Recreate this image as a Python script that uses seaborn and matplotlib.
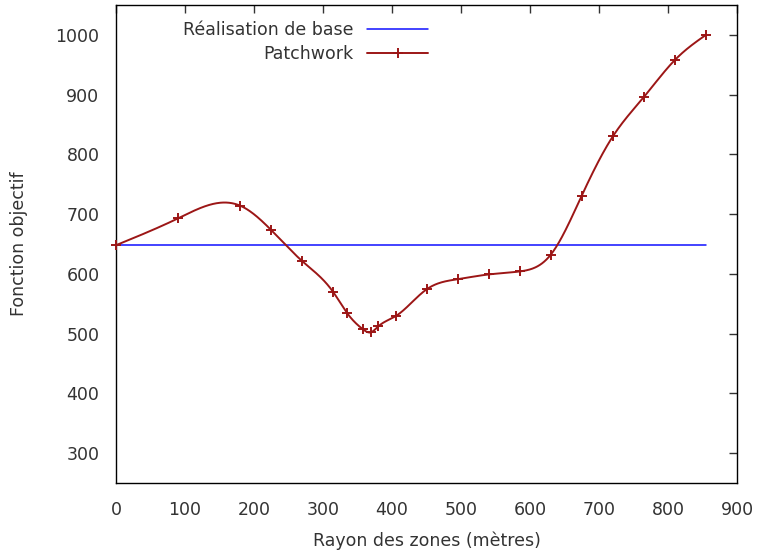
import numpy as np
import pandas as pd
import matplotlib
matplotlib.use("Agg")
import matplotlib.pyplot as plt
import seaborn as sns
from matplotlib.lines import Line2D

# Data
rayon = [0, 90, 180, 225, 270, 315, 335, 358, 369, 380, 405, 450, 495, 540,
         585, 630, 675, 720, 765, 810, 855]
patchwork = [648, 693, 714, 673, 621, 569, 534, 507, 502, 512, 529, 574, 591,
             599, 604, 632, 731, 830, 896, 958, 1000]
base_x = [0, 855]
base_y = [648, 648]

xticks = [0, 100, 200, 300, 400, 500, 600, 700, 800, 900]
yticks = [300, 400, 500, 600, 700, 800, 900, 1000]


def natural_spline(x, y, n=800):
    x = np.asarray(x, float)
    y = np.asarray(y, float)
    m = len(x)
    h = np.diff(x)
    A = np.zeros((m, m))
    b = np.zeros(m)
    A[0, 0] = 1
    A[-1, -1] = 1
    for i in range(1, m - 1):
        A[i, i - 1] = h[i - 1]
        A[i, i] = 2 * (h[i - 1] + h[i])
        A[i, i + 1] = h[i]
        b[i] = 6 * ((y[i + 1] - y[i]) / h[i] - (y[i] - y[i - 1]) / h[i - 1])
    M = np.linalg.solve(A, b)
    xs = np.linspace(x[0], x[-1], n)
    idx = np.clip(np.searchsorted(x, xs) - 1, 0, m - 2)
    x0, x1 = x[idx], x[idx + 1]
    hh = x1 - x0
    t0 = x1 - xs
    t1 = xs - x0
    ys = (M[idx] * t0 ** 3 / (6 * hh) + M[idx + 1] * t1 ** 3 / (6 * hh)
          + (y[idx] / hh - M[idx] * hh / 6) * t0
          + (y[idx + 1] / hh - M[idx + 1] * hh / 6) * t1)
    return xs, ys


sns.set_theme(style="white")
plt.rcParams['font.family'] = ['DejaVu Sans']

fig = plt.figure(figsize=(7.59, 5.57), dpi=100)
ax = fig.add_axes([0.153, 0.133, 0.818, 0.858])

red = '#9c1616'
blue = '#1010ff'
txt = '#333333'

sns.lineplot(x=base_x, y=base_y, ax=ax, color=blue, lw=1.1)
xs, ys = natural_spline(rayon, patchwork)
df = pd.DataFrame({'x': xs, 'y': ys})
sns.lineplot(data=df, x='x', y='y', ax=ax, color=red, lw=1.4, sort=False)
sns.scatterplot(x=rayon, y=patchwork, ax=ax, marker='+', color=red, s=50,
                linewidth=1.4, zorder=5, clip_on=False)

handles = [Line2D([], [], color=blue, lw=1.1),
           Line2D([], [], color=red, lw=1.4, marker='+', markersize=7.5,
                  markeredgewidth=1.4)]
ax.legend(handles, ['Réalisation de base', 'Patchwork'], loc='upper right',
          bbox_to_anchor=(0.522, 0.992), frameon=False, markerfirst=False,
          fontsize=12.5, handlelength=3.5, handletextpad=0.8,
          labelspacing=0.35, labelcolor=txt, borderaxespad=0.3)

ax.set_xlim(0, 900)
ax.set_ylim(250, 1050)
ax.set_xticks(xticks)
ax.set_yticks(yticks)
ax.tick_params(axis='both', direction='in', length=6, width=1, colors=txt,
               labelsize=12.5, top=True, right=True, labelcolor=txt)
ax.tick_params(axis='x', pad=13)
ax.tick_params(axis='y', pad=12)
for s in ax.spines.values():
    s.set_color('black')
    s.set_linewidth(1)
ax.set_xlabel('Rayon des zones (mètres)', fontsize=12.5, color=txt, labelpad=9)
ax.set_ylabel('Fonction objectif', fontsize=12.5, color=txt, labelpad=20)

fig.savefig('out.png', dpi=100)
